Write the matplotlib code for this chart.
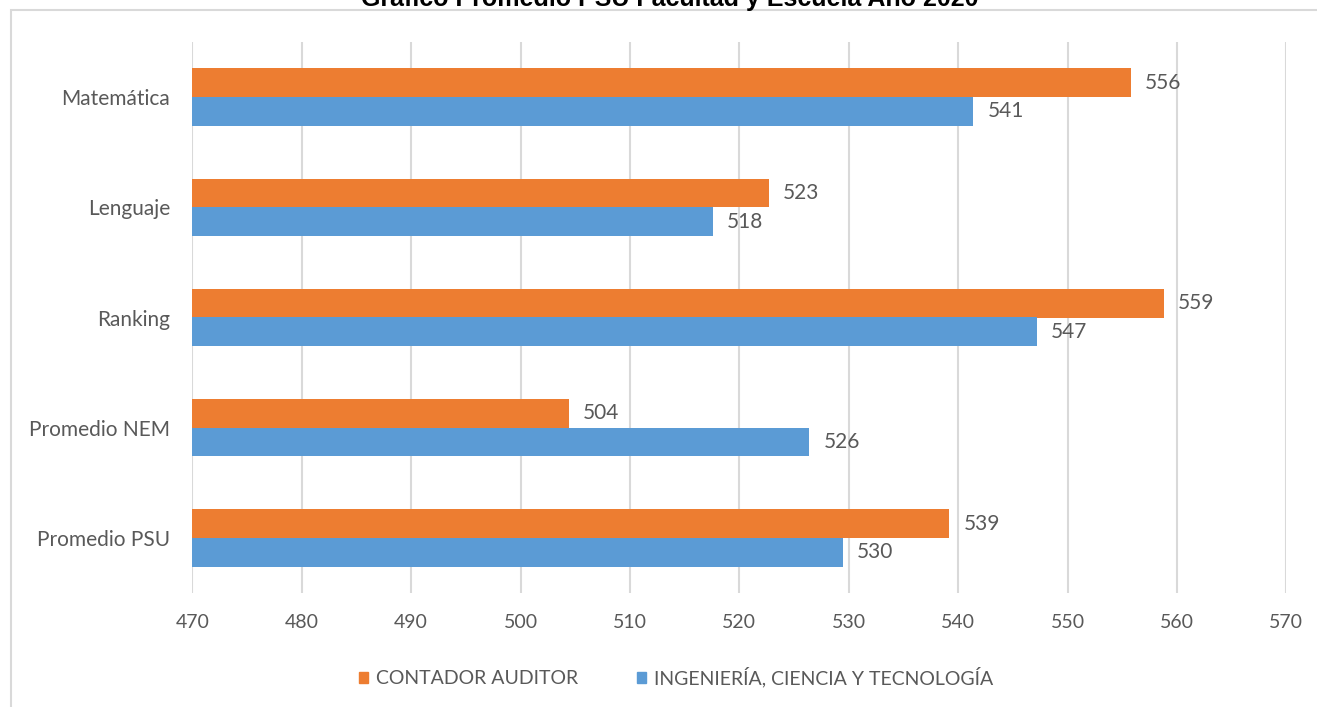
import matplotlib
matplotlib.use("Agg")
import matplotlib.pyplot as plt
from matplotlib.patches import Rectangle, Patch
import numpy as np

categories = ["Promedio PSU", "Promedio NEM", "Ranking", "Lenguaje", "Matemática"]
contador = [539.2, 504.4, 558.8, 522.7, 555.8]
ingenieria = [529.5, 526.4, 547.2, 517.6, 541.4]
labels_contador = ["539", "504", "559", "523", "556"]
labels_ing = ["530", "526", "547", "518", "541"]
series_names = ["CONTADOR AUDITOR", "INGENIERÍA, CIENCIA Y TECNOLOGÍA"]
title = "Gráfico Promedio PSU Facultad y Escuela Año 2020"
xticks = list(range(470, 571, 10))

ORANGE = "#ED7D31"
BLUE = "#5B9BD5"
GRID = "#D9D9D9"
TXT = "#595959"
FONT = ["Lato", "DejaVu Sans"]

W, H = 1317, 707
fig = plt.figure(figsize=(W / 100, H / 100), dpi=100)
ax = fig.add_axes([192.3 / W, 1 - 593 / H, (1286.3 - 192.3) / W, (593 - 42) / H])

y = np.arange(len(categories))
bh = 0.26
ax.barh(y + bh / 2, np.array(contador) - 470, left=470, height=bh, color=ORANGE, label=series_names[0], zorder=3)
ax.barh(y - bh / 2, np.array(ingenieria) - 470, left=470, height=bh, color=BLUE, label=series_names[1], zorder=3)

for yi, v, t in zip(y, contador, labels_contador):
    ax.annotate(t, (v, yi + bh / 2), xytext=(14, 0), textcoords="offset pixels",
                va="center", ha="left", fontsize=15, color=TXT, family=FONT)
for yi, v, t in zip(y, ingenieria, labels_ing):
    ax.annotate(t, (v, yi - bh / 2), xytext=(14, 0), textcoords="offset pixels",
                va="center", ha="left", fontsize=15, color=TXT, family=FONT)

ax.set_xlim(470, 570)
ax.set_ylim(-0.5, len(categories) - 0.5)
ax.set_xticks(xticks)
ax.set_yticks(y)
ax.set_yticklabels(categories, family=FONT, fontsize=15, color=TXT)
ax.set_xticklabels([str(t) for t in xticks], family=FONT, fontsize=14, color=TXT)
ax.tick_params(axis="both", length=0)
ax.tick_params(axis="y", pad=16)
ax.tick_params(axis="x", pad=15)
ax.grid(axis="x", color=GRID, linewidth=1.5, zorder=0)
for s in ax.spines.values():
    s.set_visible(False)

handles = [Patch(color=ORANGE), Patch(color=BLUE)]
fig.legend(handles, series_names, loc="center", bbox_to_anchor=(676 / W, 1 - 677 / H), ncol=2,
           frameon=False, prop={"family": FONT, "size": 14}, labelcolor=TXT,
           handlelength=0.5, handleheight=0.5, handletextpad=0.4, columnspacing=3.0)

fig.text(670 / W, 1 - 6 / H, title, ha="center", va="baseline", fontsize=18,
         fontweight="bold", family=["Liberation Sans", "DejaVu Sans"], color="black")

fig.patches.append(Rectangle((11 / W, -0.1), 2, 1.1 - 10 / H, fill=False, edgecolor=GRID,
                             linewidth=1.5, transform=fig.transFigure))

fig.savefig("out.png", dpi=100)
